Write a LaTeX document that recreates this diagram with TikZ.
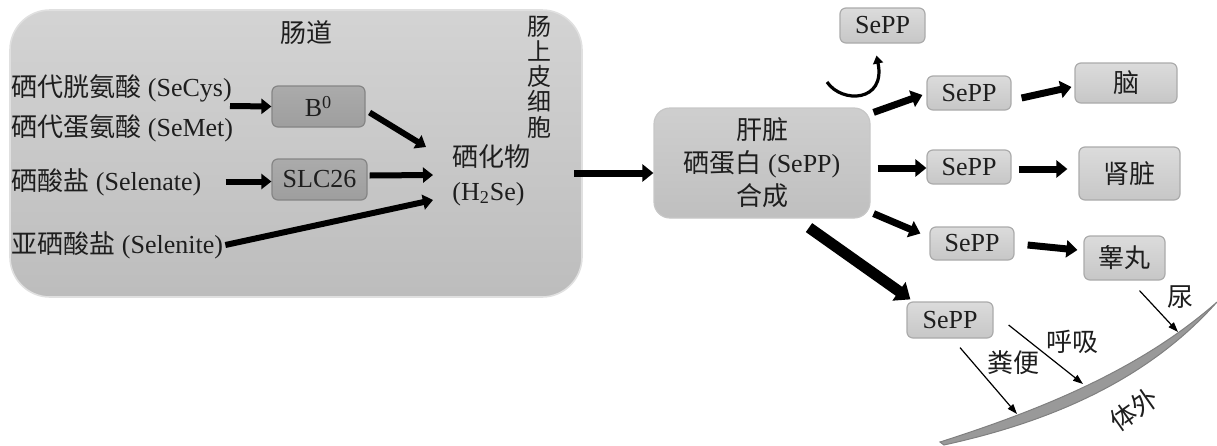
\documentclass[tikz,border=0pt]{standalone}
\usepackage{fontspec}
\setmainfont{Liberation Serif}
\newfontfamily\cjk{Noto Sans CJK SC}
\usetikzlibrary{arrows.meta,calc}
\newcommand\zhs[1]{{\cjk #1}}
\definecolor{txtc}{HTML}{1E1E1E}
\begin{document}
\begin{tikzpicture}[x=0.5pt,y=-0.5pt,
  every node/.style={text=txtc},
  txt/.style={inner sep=0pt, font=\fontsize{13}{17}\selectfont},
  gutbox/.style={rounded corners=20pt, top color=black!17, bottom color=black!26, draw=black!12, line width=0.8pt},
  liverbox/.style={rounded corners=8pt, top color=black!19, bottom color=black!25, draw=black!22, line width=0.6pt, font=\fontsize{13}{16.5}\selectfont, align=center},
  lbox/.style={rounded corners=3pt, top color=black!14, bottom color=black!22, draw=black!33, line width=0.6pt, inner sep=0pt, font=\fontsize{13}{15}\selectfont},
  dbox/.style={rounded corners=3pt, top color=black!33, bottom color=black!38, draw=black!48, line width=0.6pt, inner sep=0pt, font=\fontsize{13}{15}\selectfont},
  gutarr/.style={line width=3pt, -{Triangle[length=5pt,width=7.5pt]}},
  thickarr/.style={line width=3.5pt, -{Triangle[length=5.5pt,width=8.5pt]}},
  fatarr/.style={line width=5.5pt, -{Triangle[length=7pt,width=11pt]}},
  thinarr/.style={line width=0.6pt, -{Triangle[length=5pt,width=3.5pt]}},
  curvarr/.style={line width=1.6pt, -{Triangle[length=4pt,width=5pt]}},
  band/.style={fill=black!40, draw=black!50, line width=0.5pt}
]
\useasboundingbox (0,0) rectangle (1217,445);

% intestine
\node[gutbox, minimum width=286pt, minimum height=143.5pt] (gut) at (296,153.5) {};
\node[txt] (gutlbl) at (306,33) {\zhs{肠道}};
\node[txt, align=center, font=\fontsize{12}{12.6}\selectfont\cjk] (epi) at (539,77) {肠\\上\\皮\\细\\胞};

\node[txt, anchor=west] (secys) at (11,88) {\zhs{硒代胱氨酸} (SeCys)};
\node[txt, anchor=west] (semet) at (11,128) {\zhs{硒代蛋氨酸} (SeMet)};
\node[txt, anchor=west] (selenate) at (11,182) {\zhs{硒酸盐} (Selenate)};
\node[txt, anchor=west] (selenite) at (11,245) {\zhs{亚硒酸盐} (Selenite)};

\node[dbox, minimum width=46.5pt, minimum height=20.5pt] (b0) at (318.5,106.5) {B\textsuperscript{0}};
\node[dbox, minimum width=47.5pt, minimum height=20.5pt] (slc) at (319.5,179.5) {SLC26};
\node[txt, anchor=west, align=left] (h2se) at (452,175) {\zhs{硒化物}\\(H\textsubscript{2}Se)};

\coordinate (cysend) at (230,106);
\draw[gutarr] (cysend) -- (b0.west);
\draw[gutarr] ($(selenate.east |- slc.west)+(24,2)$) -- ($(slc.west)+(0,2)$);
\draw[gutarr] ($(b0.east)+(4,6)$) -- ($(h2se.west)+(-26,-28)$);
\draw[gutarr] ($(slc.east)+(2,-4)$) -- ($(h2se.west)+(-19,0)$);
\draw[gutarr] ($(selenite.east)+(2,0)$) -- ($(h2se.west)+(-19,25)$);

% liver
\node[liverbox, minimum width=108pt, minimum height=55pt] (liver) at (762,163)
  {\zhs{肝脏}\\\zhs{硒蛋白} (SePP)\\\zhs{合成}};
\coordinate (gutout) at (574,173);
\draw[thickarr] (gutout) -- (gutout -| liver.west);

% SePP boxes
\node[lbox, minimum width=42.5pt, minimum height=17.5pt] (sepptop) at (882.5,25.5) {SePP};
\node[lbox, minimum width=42pt, minimum height=17pt] (sepp1) at (969,93) {SePP};
\node[lbox, minimum width=42pt, minimum height=17pt] (sepp2) at (969,167) {SePP};
\node[lbox, minimum width=42pt, minimum height=16.5pt] (sepp3) at (972,243.5) {SePP};
\node[lbox, minimum width=43pt, minimum height=18pt] (sepp4) at (950,320) {SePP};

\node[lbox, minimum width=51pt, minimum height=20pt] (brain) at (1126,83) {\zhs{脑}};
\node[lbox, minimum width=50.5pt, minimum height=26.5pt] (kidney) at (1129.5,173.5) {\zhs{肾脏}};
\node[lbox, minimum width=40.5pt, minimum height=22pt] (testis) at (1124.5,258) {\zhs{睾丸}};

% arrows from liver
\coordinate (curvstart) at (827,82);
\draw[curvarr] (curvstart) .. controls (842,104) and (886,102) .. ($(sepptop.south)+(-6,12)$);
\draw[thickarr] ($(liver.north east)+(3,5)$) -- ($(sepp1.west)+(-4,2)$);
\draw[thickarr] ($(liver.east)+(7,5)$) -- ($(sepp2.west)+(0,1)$);
\draw[thickarr] ($(liver.south east)+(3,-5)$) -- ($(sepp3.west)+(-9,-10)$);
\draw[fatarr] ($(liver.south)+(47,9)$) -- ($(sepp4.north west)+(4,-2)$);

\draw[thickarr] ($(sepp1.east)+(10,5)$) -- ($(brain.west)+(-3,4)$);
\draw[thickarr] ($(sepp2.east)+(7,2)$) -- ($(kidney.west)+(-11,-4.5)$);
\draw[thickarr] ($(sepp3.east)+(13,1.5)$) -- ($(testis.west)+(-6,-8)$);

% body exterior band
\path[band] (940,442) .. controls (1040,410) and (1140,370) .. (1217,302)
  .. controls (1145,383) and (1045,423) .. (944,445) -- cycle;
\coordinate (bandA) at (1017,414);
\coordinate (bandB) at (1083,384);
\coordinate (bandC) at (1178,332);

\draw[thinarr] ($(sepp4.south)+(10,9)$) -- (bandA);
\draw[thinarr] ($(sepp4.east)+(15,5)$) -- (bandB);
\draw[thinarr] ($(testis.south)+(15,10)$) -- (bandC);

\node[txt] (feces) at (1013,363) {\zhs{粪便}};
\node[txt] (breath) at (1072,342) {\zhs{呼吸}};
\node[txt] (urine) at (1180,297) {\zhs{尿}};
\node[txt, rotate=35] (outside) at (1134,409) {\zhs{体外}};
\end{tikzpicture}
\end{document}
